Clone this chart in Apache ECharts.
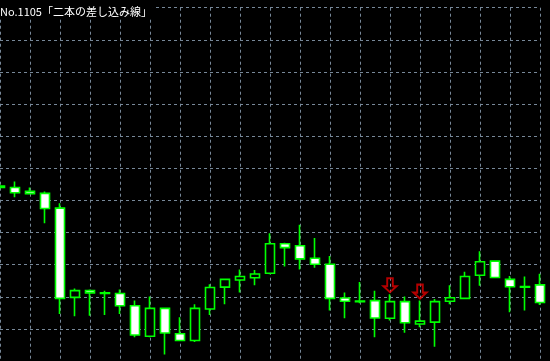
<!DOCTYPE html>
<html>
<head>
<meta charset="utf-8">
<style>
html,body{margin:0;padding:0;background:#000;}
#chart{width:550px;height:361px;}
</style>
<script src="https://cdn.jsdelivr.net/npm/echarts@6/dist/echarts.min.js"></script>
</head>
<body>
<div id="chart"></div>
<script>
var titleText = 'No.1105「二本の差し込み線」';
var bars = [];
for (var b = 0; b < 37; b++) bars.push(String(b + 1));
var opens  = [94.0,94.0,92.8,92.2,87.6,59.8,61.9,61.0,61.0,57.2,47.7,56.4,48.5,46.4,56.2,63.0,65.2,65.9,67.3,76.5,75.9,72.0,70.1,59.6,58.5,58.8,53.3,58.5,51.5,52.1,58.6,59.5,66.7,71.1,65.4,63.0,63.7];
var closes = [94.5,92.4,92.1,87.5,59.5,61.9,61.2,61.2,57.2,48.1,56.4,48.7,46.4,56.4,62.9,65.4,66.3,67.1,76.5,75.3,71.8,70.1,59.5,58.6,58.7,53.4,58.5,51.9,52.4,58.5,59.7,66.3,70.9,66.0,63.1,63.2,58.2];
var lows   = [93.4,91.0,92.1,82.9,54.6,53.9,54.1,54.3,54.6,47.4,47.4,42.0,46.4,45.9,54.3,57.7,61.3,63.6,67.0,69.4,68.5,69.0,55.7,53.3,58.0,47.4,52.6,48.8,50.5,44.4,57.7,59.4,63.4,66.0,55.2,55.7,57.4];
var highs  = [95.0,95.9,94.0,92.8,89.1,62.6,62.3,61.9,62.3,58.8,60.1,56.6,53.6,57.7,63.9,65.6,68.5,68.3,79.8,76.8,82.4,78.3,72.7,61.3,64.6,61.9,60.8,60.1,58.8,59.3,63.6,67.8,74.2,71.4,66.5,66.3,67.2];
var arrowBars = [26, 28];
var arrowLevels = [63.6, 61.6];

var candleData = opens.map(function (o, i) { return [o, closes[i], lows[i], highs[i]]; });
var arrowData = arrowBars.map(function (b, i) { return [b, arrowLevels[i]]; });

var chart = echarts.init(document.getElementById('chart'), null, {renderer: 'canvas'});
chart.setOption({
  backgroundColor: '#000000',
  animation: false,
  title: {
    text: titleText,
    left: 0, top: 4,
    padding: [2, 1, 2, 0],
    backgroundColor: '#000000',
    textStyle: {color: '#ffffff', fontSize: 11, fontWeight: 'normal', fontFamily: 'Noto Sans CJK JP'}
  },
  grid: {left: -4.2, right: 10, top: 7.7, bottom: -3.1},
  xAxis: {
    type: 'category',
    data: bars,
    boundaryGap: false,
    axisLine: {show: false}, axisTick: {show: false}, axisLabel: {show: false},
    splitLine: {show: true, interval: 1, lineStyle: {color: '#778899', width: 1, type: [3, 3]}}
  },
  yAxis: {
    type: 'value',
    min: 40, max: 150, interval: 10,
    axisLine: {show: false}, axisTick: {show: false}, axisLabel: {show: false},
    splitLine: {show: true, lineStyle: {color: '#778899', width: 1, type: [3, 3]}}
  },
  series: [
    {
      type: 'candlestick',
      data: candleData,
      barWidth: 9,
      clip: false,
      itemStyle: {
        color: '#000000', color0: '#ffffff',
        borderColor: '#00ff00', borderColor0: '#00ff00', borderColorDoji: '#00ff00',
        borderWidth: 1.6
      }
    },
    {
      type: 'scatter',
      data: arrowData,
      symbol: 'path://M4,0 L10,0 L10,8 L14,8 L7,14 L0,8 L4,8 Z',
      symbolSize: [13, 14],
      itemStyle: {color: 'rgba(0,0,0,0)', borderColor: '#e00000', borderWidth: 2},
      z: 5
    }
  ]
});
</script>
</body>
</html>
